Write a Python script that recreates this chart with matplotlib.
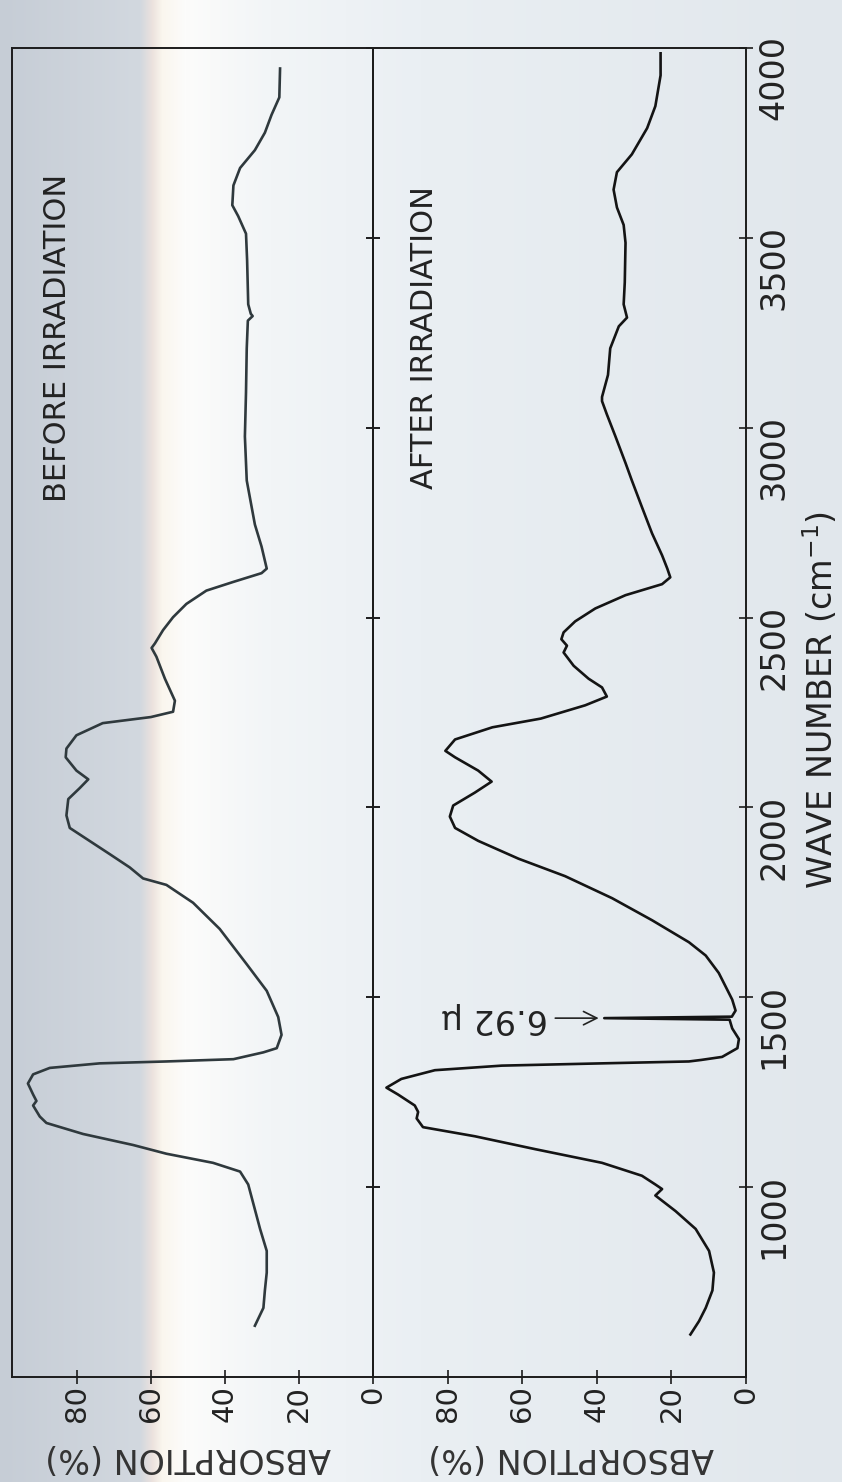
import numpy as np
import matplotlib
matplotlib.use("Agg")
import matplotlib.pyplot as plt

# Infrared absorption spectra, before and after irradiation
before_wn = [3946, 3870, 3824, 3777, 3731, 3684, 3638, 3586, 3557, 3511, 3441, 3325, 3300,
             3294, 3282, 3209, 3093, 2977, 2861, 2745, 2687, 2629, 2617, 2594, 2571, 2536,
             2501, 2467, 2432, 2420, 2397, 2339, 2281, 2252, 2238, 2222, 2190, 2155, 2132,
             2097, 2074, 2051, 2022, 1979, 1946, 1923, 1877, 1842, 1813, 1796, 1749, 1680,
             1587, 1517, 1448, 1401, 1366, 1355, 1337, 1331, 1326, 1314, 1297, 1273, 1244,
             1227, 1215, 1186, 1169, 1140, 1111, 1088, 1064, 1041, 1007, 890, 832, 775, 728,
             682, 635]
before_abs = [25.1, 25.3, 27.4, 29.2, 31.9, 35.9, 37.7, 38.0, 36.4, 34.3, 34.0, 33.7, 33.0,
              32.5, 33.8, 34.1, 34.3, 34.6, 34.1, 31.9, 30.1, 28.7, 30.1, 37.7, 45.0, 50.4,
              54.0, 56.7, 58.9, 59.8, 58.5, 56.2, 53.5, 54.0, 60.0, 73.0, 80.1, 82.8, 83.0,
              80.1, 76.9, 79.2, 82.3, 82.8, 81.9, 78.3, 71.1, 65.7, 62.1, 55.8, 48.6, 41.4,
              34.1, 28.7, 25.6, 24.7, 26.0, 29.6, 37.7, 55.8, 73.8, 87.3, 91.8, 93.2, 91.8,
              90.9, 91.8, 90.0, 88.2, 78.3, 64.8, 55.8, 43.2, 35.9, 33.7, 30.5, 28.7, 28.7,
              29.2, 29.6, 31.9]

after_wn = [3986, 3928, 3847, 3789, 3720, 3673, 3627, 3580, 3534, 3487, 3383, 3325, 3290,
            3267, 3209, 3139, 3081, 3070, 3035, 2977, 2907, 2861, 2791, 2722, 2664, 2629,
            2606, 2588, 2559, 2524, 2490, 2461, 2443, 2426, 2408, 2373, 2339, 2316, 2292,
            2269, 2234, 2211, 2179, 2149, 2132, 2097, 2068, 2039, 2005, 1976, 1946, 1912,
            1865, 1819, 1761, 1703, 1645, 1610, 1564, 1529, 1494, 1465, 1449, 1441, 1418,
            1390, 1366, 1343, 1335, 1331, 1326, 1320, 1308, 1285, 1262, 1244, 1215, 1198,
            1181, 1158, 1134, 1100, 1064, 1030, 1007, 995, 978, 937, 890, 832, 775, 728,
            682, 647, 612]
after_abs = [22.9, 22.9, 24.3, 26.5, 30.6, 34.6, 35.5, 34.6, 32.8, 32.3, 32.5, 32.8, 31.9,
             34.1, 36.4, 37.0, 38.6, 38.6, 37.3, 35.0, 32.3, 30.6, 27.9, 25.2, 22.5, 21.1,
             20.3, 22.5, 32.3, 40.4, 45.8, 48.9, 49.5, 48.0, 48.9, 46.2, 42.2, 38.6, 37.3,
             43.1, 55.0, 68.0, 78.0, 80.6, 78.0, 71.8, 68.2, 72.7, 78.5, 79.4, 78.0, 71.8,
             61.0, 48.5, 35.9, 25.2, 15.3, 10.8, 7.3, 5.5, 3.7, 2.8, 3.8, 4.4, 3.7,
             1.9, 2.3, 6.4, 12.0, 15.3, 38.6, 65.5, 83.4, 92.4, 96.4, 93.3, 88.8, 87.9,
             88.3, 86.6, 72.7, 56.5, 38.6, 27.9, 24.3, 22.5, 24.3, 18.9, 13.5, 9.9, 8.6, 9.0,
             10.8, 12.6, 14.9]

# Narrow band that appears after irradiation, labelled by its wavelength
spike_um = 6.92
spike_abs = 38.0

wn_ticks = [1000, 1500, 2000, 2500, 3000, 3500, 4000]
abs_ticks = [0, 20, 40, 60, 80]

# insert the new band into the irradiated spectrum
spike_wn = 1e4 / spike_um
a_wn = np.append(after_wn, spike_wn)
a_abs = np.append(after_abs, spike_abs)
order = np.argsort(-a_wn)
a_wn, a_abs = a_wn[order], a_abs[order]

W, H, DPI = 842, 1482, 100
fig = plt.figure(figsize=(W / DPI, H / DPI), dpi=DPI)

# paper tone across the sheet
stops_x = [0, 140, 152, 162, 185, 270, 420, 842]
stops_rgb = [(198, 205, 214), (210, 216, 223), (236, 226, 222), (250, 246, 238),
             (252, 252, 251), (242, 245, 247), (234, 239, 243), (225, 231, 236)]
xs = np.arange(W)
paper = np.stack([np.interp(xs, stops_x, [c[i] for c in stops_rgb]) for i in range(3)],
                 axis=-1)[None, :, :] / 255.0
bg = fig.add_axes([0, 0, 1, 1], zorder=-5)
bg.imshow(paper, aspect="auto", extent=(0, 1, 0, 1))
bg.set_axis_off()

top_px, bot_px = 48, 1377
bottom = 1 - bot_px / H
height = (bot_px - top_px) / H
ax_b = fig.add_axes([12 / W, bottom, (373 - 12) / W, height])
ax_a = fig.add_axes([373 / W, bottom, (746 - 373) / W, height])

ink = "#1c1c1c"
for ax in (ax_b, ax_a):
    ax.set_facecolor("none")
    ax.set_ylim(500, 4000)
    ax.set_yticks(wn_ticks)
    ax.set_xticks(abs_ticks)
    for s in ax.spines.values():
        s.set_linewidth(1.4)
        s.set_color(ink)
    ax.tick_params(axis="x", direction="inout", length=10, width=1.2, color=ink,
                   labelsize=21, labelrotation=90, pad=1, labelcolor="#222222")
ax_b.set_xlim(97.5, 0)
ax_a.set_xlim(100, 0)

ax_b.tick_params(axis="y", left=False, right=True, labelleft=False, labelright=False,
                 direction="inout", length=10, width=1.2, color=ink)
ax_a.tick_params(axis="y", left=True, right=True, labelleft=False, labelright=True,
                 direction="inout", length=10, width=1.2, color=ink,
                 labelsize=24, labelrotation=90, pad=3, labelcolor="#222222")

ax_b.plot(before_abs, before_wn, color="#2f393d", lw=1.9, solid_joinstyle="round")
ax_a.plot(a_abs, a_wn, color="#141414", lw=1.9, solid_joinstyle="round")

ax_b.text(0.125, 0.782, "BEFORE IRRADIATION", transform=ax_b.transAxes, rotation=90,
          ha="center", va="center", fontsize=22, color="#222222")
ax_a.text(0.139, 0.782, "AFTER IRRADIATION", transform=ax_a.transAxes, rotation=90,
          ha="center", va="center", fontsize=22, color="#222222")

ax_a.annotate(f"{spike_um:.2f} μ", xy=(spike_abs + 1.5, spike_wn), xytext=(53, spike_wn),
              rotation=180, ha="right", va="center", fontsize=24, color="#222222",
              arrowprops=dict(arrowstyle="->", lw=1.2, color="#222222",
                              shrinkA=3, shrinkB=0))

for xc in (188, 571):
    fig.text(xc / W, 1 - 1457 / H, "ABSORPTION (%)", rotation=180, ha="center",
             va="center", fontsize=24, color="#333333")
fig.text(821 / W, 1 - 700 / H, "WAVE NUMBER (cm$^{-1}$)", rotation=90, ha="center",
         va="center", fontsize=24, color="#222222")

fig.savefig("out.png", dpi=DPI)
